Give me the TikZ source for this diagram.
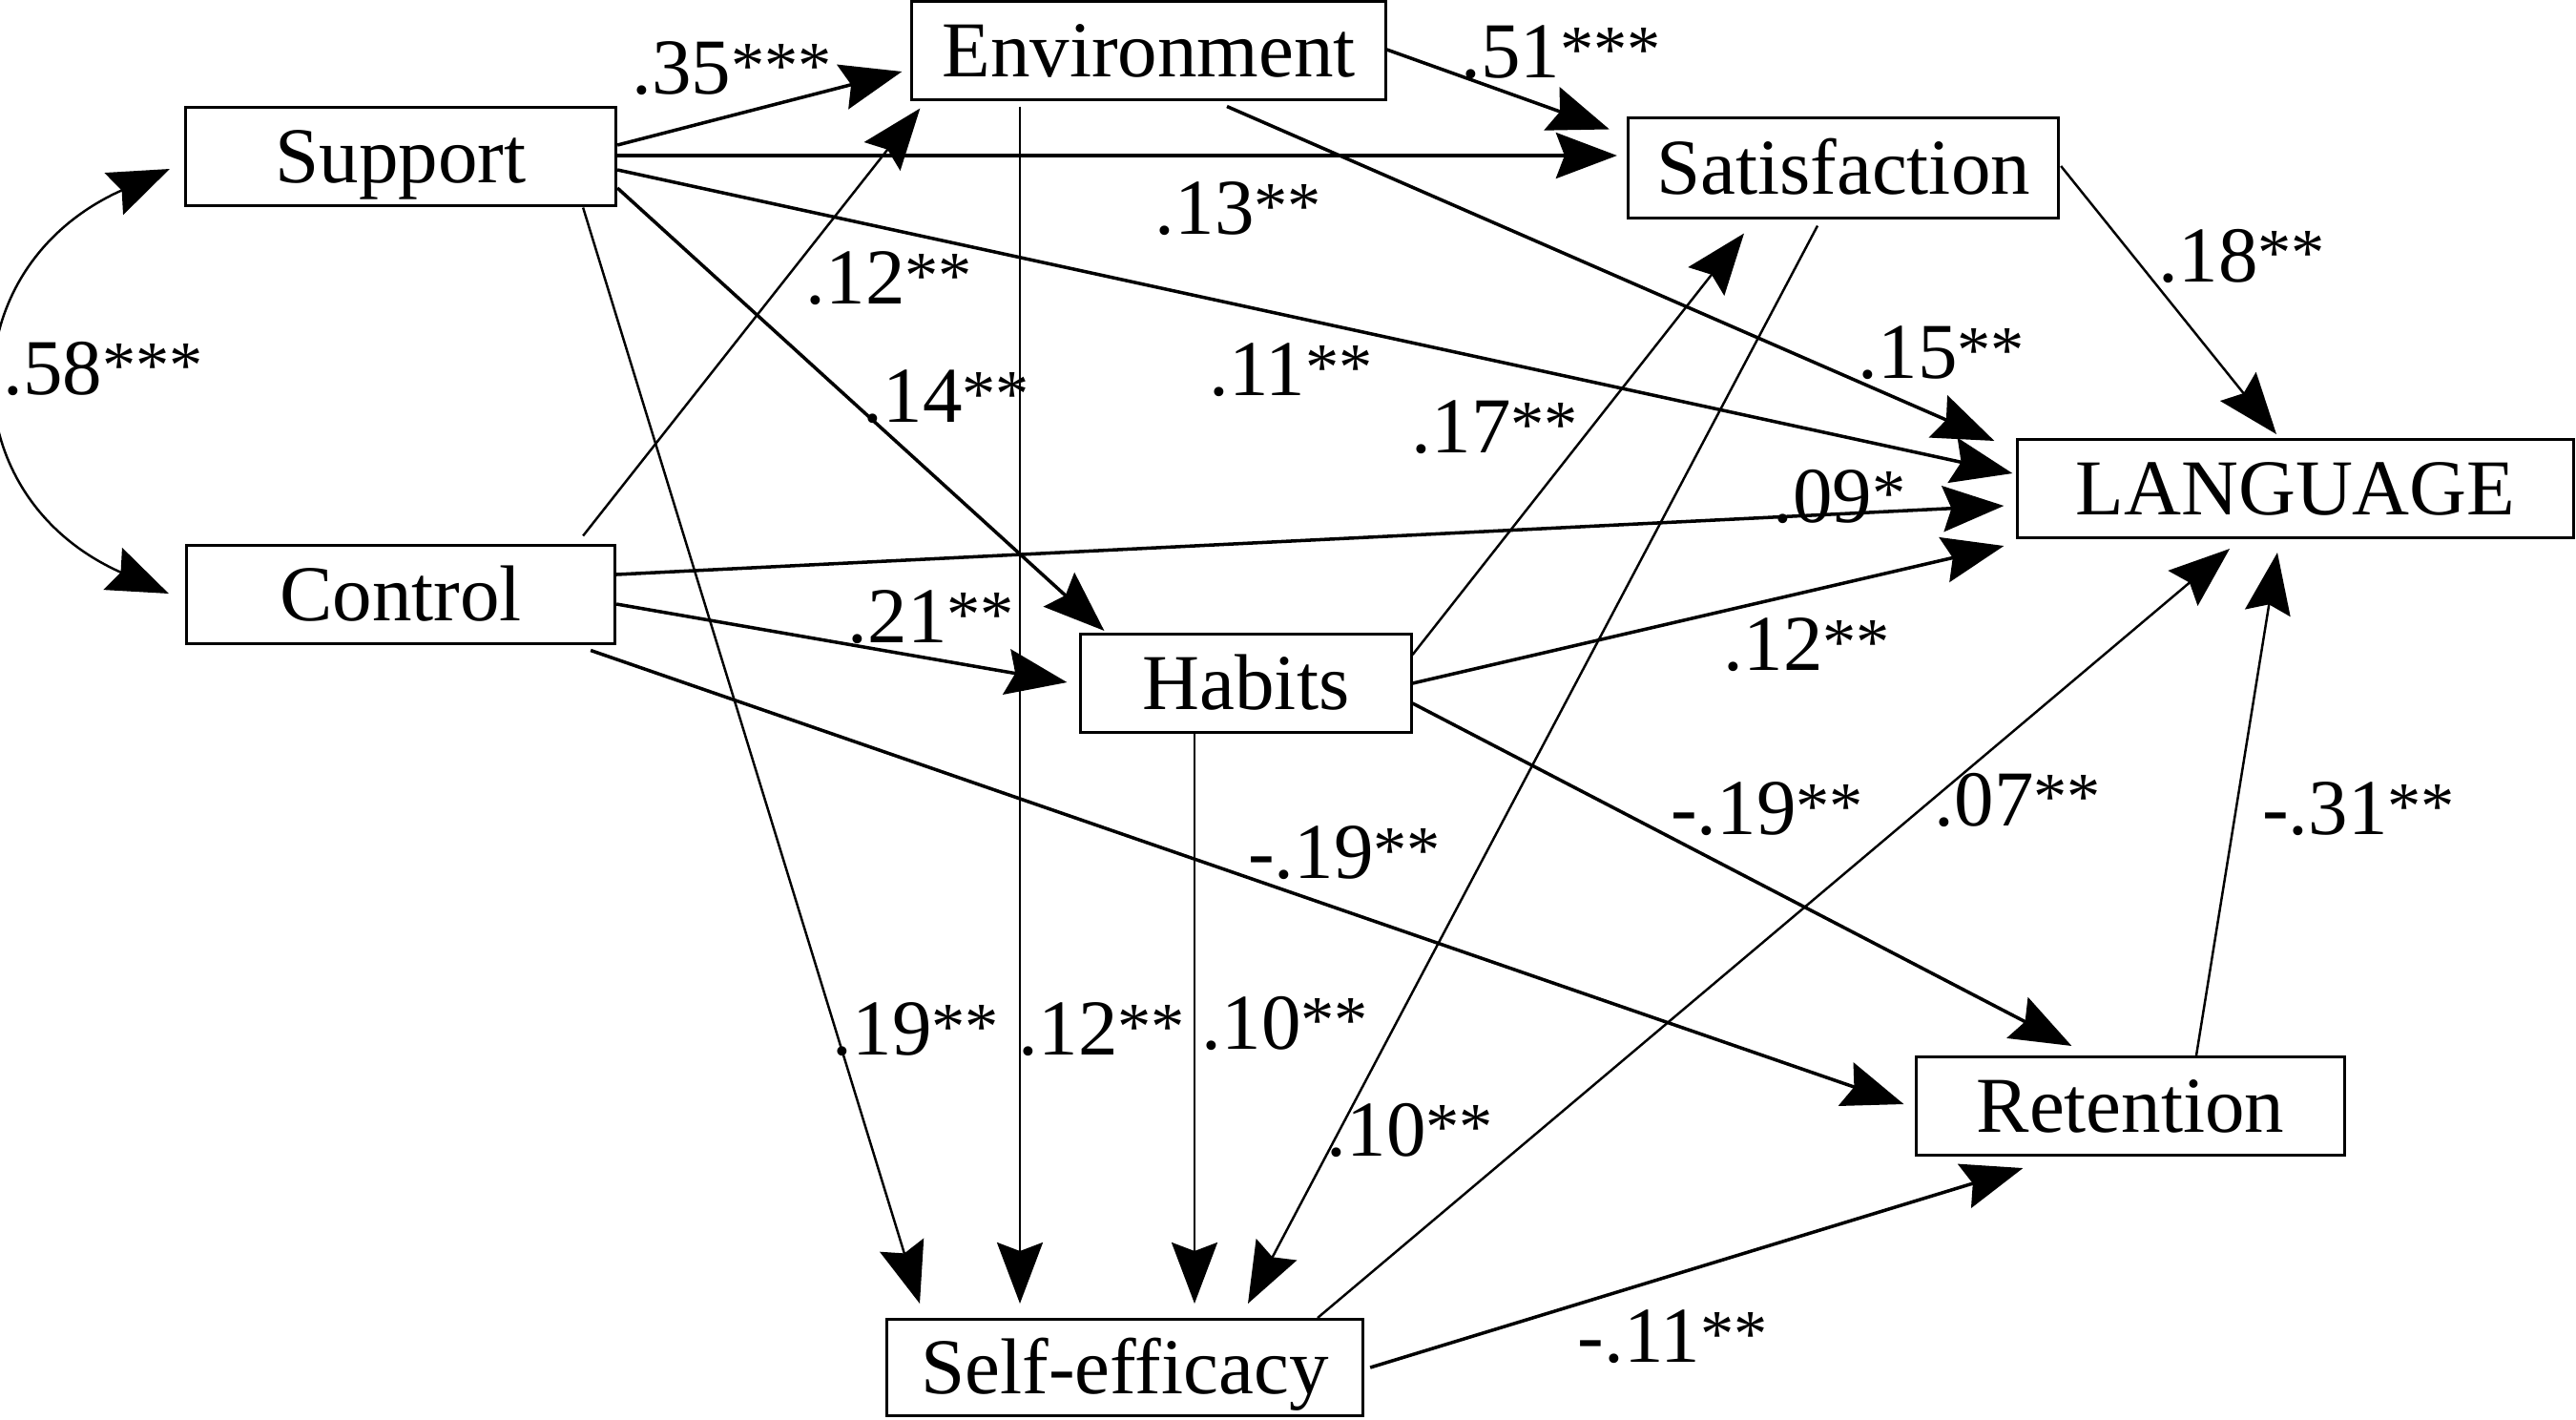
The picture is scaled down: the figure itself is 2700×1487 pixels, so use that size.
\documentclass[tikz,border=0pt]{standalone}
\usepackage{fontspec}
\setmainfont{Liberation Serif}
\usetikzlibrary{arrows.meta,calc}
\newcommand{\stars}[1]{\raisebox{0.08em}{\fontsize{20}{20}\selectfont #1}}
\begin{document}
\begin{tikzpicture}[x=0.01cm,y=-0.01cm,
  box/.style={draw,line width=0.85pt,inner sep=0pt,text height=15.6pt,text depth=0pt,
    font=\fontsize{23.6}{28}\selectfont},
  lab/.style={inner sep=0pt,font=\fontsize{23.6}{28}\selectfont},
  tip/.style={-{Stealth[length=0.64cm,width=0.48cm,inset=0.09cm]}},
  edge/.style={tip,line width=0.7pt},
  thk/.style={tip,line width=1pt},
  dedge/.style={line width=0.7pt,{Stealth[length=0.64cm,width=0.48cm,inset=0.09cm]}-{Stealth[length=0.64cm,width=0.48cm,inset=0.09cm]}}]
\useasboundingbox[fill=white] (0,0) rectangle (2700,1487);

% nodes
\node[box,minimum width=4.51cm,minimum height=1.02cm] (Support) at (420,164) {Support};
\node[box,minimum width=4.96cm,minimum height=1.02cm] (Environment) at (1204,53) {Environment};
\node[box,minimum width=4.51cm,minimum height=1.04cm] (Satisfaction) at (1932,176) {Satisfaction};
\node[box,minimum width=5.82cm,minimum height=1.03cm] (LANGUAGE) at (2406,512) {LANGUAGE};
\node[box,minimum width=4.49cm,minimum height=1.02cm] (Control) at (420,623) {Control};
\node[box,minimum width=3.46cm,minimum height=1.03cm] (Habits) at (1306,716) {Habits};
\node[box,minimum width=4.48cm,minimum height=1.03cm] (Retention) at (2233,1159) {Retention};
\node[box,minimum width=4.99cm,minimum height=1.01cm] (Selfefficacy) at (1179,1433) {Self-efficacy};

% connectors
\draw[thk] ($(Support.east)+(0,-12)$) -- ($(Environment.west)+(-9,22)$);
\draw[thk] ($(Support.east)+(0,-1)$) -- ($(Satisfaction.west)+(-10,-13)$);
\draw[thk] ($(Environment.east)+(0,-1)$) -- ($(Satisfaction.north west)+(-18,13)$);
\draw[thk] ($(Environment.south)+(82,6)$) -- ($(LANGUAGE.north west)+(-23,3)$);
\draw[edge] ($(Environment.south)+(-135,6)$) -- ($(Selfefficacy.north)+(-110,-15)$);
\draw[thk] ($(Support.east)+(0,14)$) -- ($(LANGUAGE.west)+(-4,-16)$);
\draw[thk] ($(Support.east)+(0,33)$) -- ($(Habits.north west)+(26,-2)$);
\draw[edge] ($(Support.south east)+(-36,1)$) -- ($(Selfefficacy.north)+(-215,-15)$);
\draw[edge] ($(Control.north east)+(-35,-9)$) -- ($(Environment.south west)+(10,8)$);
\draw[thk] ($(Control.east)+(0,-21)$) -- ($(LANGUAGE.west)+(-13,18)$);
\draw[thk] ($(Control.east)+(0,10)$) -- ($(Habits.west)+(-13,-1)$);
\draw[thk] ($(Control.south east)+(-27,6)$) -- ($(Retention.west)+(-12,-2)$);
\draw[edge] ($(Habits.east)+(0,-30)$) -- ($(Satisfaction.south)+(-104,15)$);
\draw[thk] (Habits.east) -- ($(LANGUAGE.south west)+(-13,7)$);
\draw[thk] ($(Habits.east)+(0,21)$) -- ($(Retention.north west)+(164,-10)$);
\draw[edge] ($(Habits.south)+(-54,0)$) -- ($(Selfefficacy.north)+(73,-15)$);
\draw[edge] ($(Satisfaction.east)+(1,-2)$) -- ($(LANGUAGE.north)+(-20,-4)$);
\draw[edge] ($(Satisfaction.south)+(-27,7)$) -- ($(Selfefficacy.north)+(129,-15)$);
\draw[edge] ($(Selfefficacy.north)+(202,0)$) -- ($(LANGUAGE.south)+(-69,10)$);
\draw[edge] ($(Retention.north)+(69,0)$) -- ($(LANGUAGE.south)+(-19,14)$);
\draw[thk] ($(Selfefficacy.east)+(6,0)$) -- ($(Retention.south west)+(113,12)$);
\draw[dedge] ($(Support.west)+(-15,13)$) .. controls (-53,280) and (-53,520) .. ($(Control.west)+(-17,-1)$);

% labels
\node[lab] (l58) at (108,386) {.58\stars{***}};
\node[lab] (l35) at (767,72) {.35\stars{***}};
\node[lab] (l51) at (1636,55) {.51\stars{***}};
\node[lab] (l13) at (1298,219) {.13\stars{**}};
\node[lab] (l12a) at (932,292) {.12\stars{**}};
\node[lab] (l14) at (992,416) {.14\stars{**}};
\node[lab] (l11) at (1353,388) {.11\stars{**}};
\node[lab] (l17) at (1567,448) {.17\stars{**}};
\node[lab] (l15) at (2035,370) {.15\stars{**}};
\node[lab] (l18) at (2350,268) {.18\stars{**}};
\node[lab] (l09) at (1928,520) {.09\stars{*}};
\node[lab] (l12b) at (1894,676) {.12\stars{**}};
\node[lab] (l21) at (976,647) {.21\stars{**}};
\node[lab] (l19a) at (1852,848) {-.19\stars{**}};
\node[lab] (l07) at (2115,838) {.07\stars{**}};
\node[lab] (l31) at (2472,848) {-.31\stars{**}};
\node[lab] (l19b) at (1409,894) {-.19\stars{**}};
\node[lab] (l19c) at (960,1079) {.19\stars{**}};
\node[lab] (l12c) at (1155,1079) {.12\stars{**}};
\node[lab] (l10a) at (1347,1072) {.10\stars{**}};
\node[lab] (l10b) at (1478,1184) {.10\stars{**}};
\node[lab] (l11b) at (1753,1401) {-.11\stars{**}};
\end{tikzpicture}
\end{document}
